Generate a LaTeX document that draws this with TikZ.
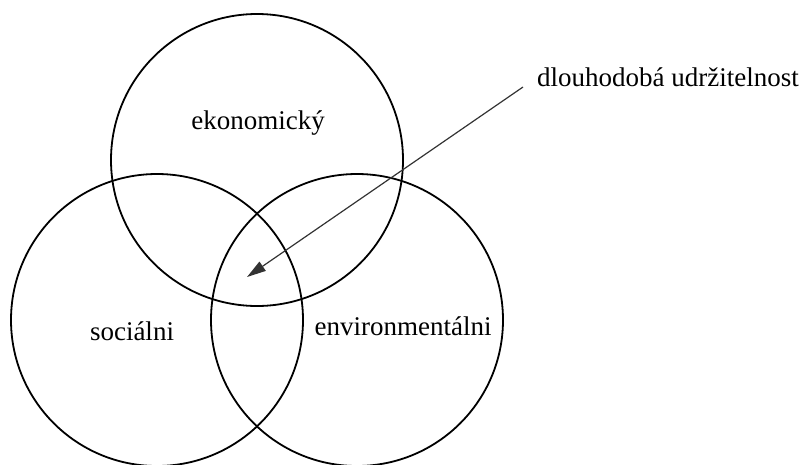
\documentclass[tikz,border=0pt]{standalone}
\usepackage{fontspec}
\setmainfont{Liberation Serif}
\usetikzlibrary{arrows.meta, positioning}
\tikzset{
  ring/.style   = {circle, draw=black, line width=1.8pt, minimum size=292pt, inner sep=0pt},
  lbl/.style    = {font=\fontsize{27}{32}\selectfont, inner sep=0pt},
  arrow/.style  = {-{Triangle[length=19pt, width=11pt]}, line width=1.2pt, color=black!80},
}
\begin{document}
\begin{tikzpicture}[x=1pt, y=-1pt]
  \useasboundingbox (0,0) rectangle (808,464);
  % the three pillars
  \foreach \n/\x/\y in {eko/257/160, soc/157/320, env/357/320} {
    \node[ring] (\n) at (\x, \y) {};
  }
  % labels
  \node[lbl] (ekolbl) at (258, 123) {ekonomický};
  \node[lbl] (soclbl) at (132, 331) {sociálni};
  \node[lbl] (envlbl) at (403, 326) {environmentálni};
  \node[lbl, anchor=west] (sust) at (537, 77) {dlouhodobá udržitelnost};
  % pointer to the centre
  \coordinate (from) at (523, 87);
  \coordinate (tip) at (247, 277);
  \draw[arrow] (from) -- (tip);
\end{tikzpicture}
\end{document}
